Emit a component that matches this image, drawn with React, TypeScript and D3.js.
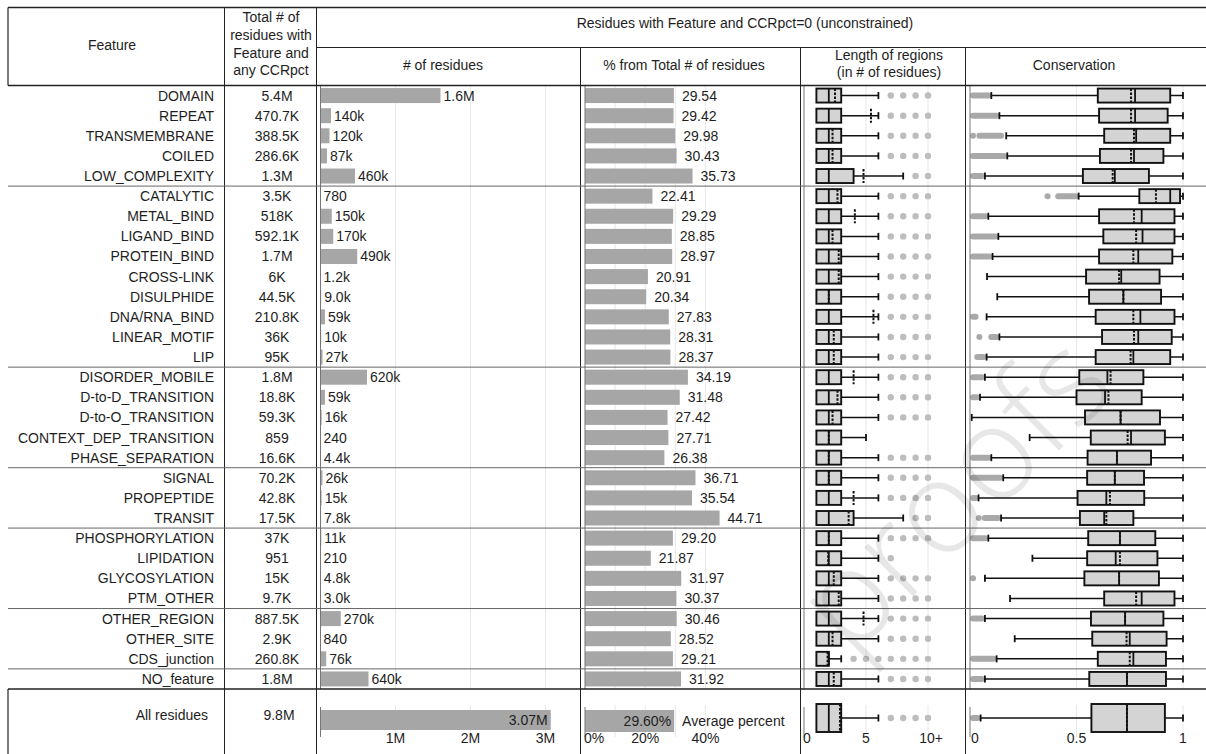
import React from "react";
import * as d3 from "d3";

// ---- table rows ----
const features = [
  "DOMAIN", "REPEAT", "TRANSMEMBRANE", "COILED", "LOW_COMPLEXITY",
  "CATALYTIC", "METAL_BIND", "LIGAND_BIND", "PROTEIN_BIND", "CROSS-LINK", "DISULPHIDE", "DNA/RNA_BIND", "LINEAR_MOTIF", "LIP",
  "DISORDER_MOBILE", "D-to-D_TRANSITION", "D-to-O_TRANSITION", "CONTEXT_DEP_TRANSITION", "PHASE_SEPARATION",
  "SIGNAL", "PROPEPTIDE", "TRANSIT",
  "PHOSPHORYLATION", "LIPIDATION", "GLYCOSYLATION", "PTM_OTHER",
  "OTHER_REGION", "OTHER_SITE", "CDS_junction",
  "NO_feature",
];
// last row index of each feature group
const groupEnds = [4, 13, 18, 21, 25, 28];

const totals = [
  "5.4M", "470.7K", "388.5K", "286.6K", "1.3M",
  "3.5K", "518K", "592.1K", "1.7M", "6K", "44.5K", "210.8K", "36K", "95K",
  "1.8M", "18.8K", "59.3K", "859", "16.6K",
  "70.2K", "42.8K", "17.5K",
  "37K", "951", "15K", "9.7K",
  "887.5K", "2.9K", "260.8K",
  "1.8M",
];

// residues with CCRpct = 0
const counts = [
  1.6e6, 140e3, 120e3, 87e3, 460e3,
  780, 150e3, 170e3, 490e3, 1.2e3, 9.0e3, 59e3, 10e3, 27e3,
  620e3, 59e3, 16e3, 240, 4.4e3,
  26e3, 15e3, 7.8e3,
  11e3, 210, 4.8e3, 3.0e3,
  270e3, 840, 76e3,
  640e3,
];

const percents = [
  29.54, 29.42, 29.98, 30.43, 35.73,
  22.41, 29.29, 28.85, 28.97, 20.91, 20.34, 27.83, 28.31, 28.37,
  34.19, 31.48, 27.42, 27.71, 26.38,
  36.71, 35.54, 44.71,
  29.20, 21.87, 31.97, 30.37,
  30.46, 28.52, 29.21,
  31.92,
];

// length of unconstrained regions (residues)
const lenQ1 = [1, 1, 1, 1, 1, 1, 1, 1, 1, 1, 1, 1, 1, 1, 1, 1, 1, 1, 1, 1, 1, 1, 1, 1, 1, 1, 1, 1, 1, 1];
const lenMed = [2, 2, 2, 2, 2, 2, 2, 2, 2, 2, 2, 2, 2, 2, 2, 2, 2, 2, 2, 2, 2, 2, 2, 2, 2, 2, 2, 2, 2, 2];
const lenQ3 = [3, 3, 3, 3, 4, 3, 3, 3, 3, 3, 3, 3, 3, 3, 3, 3, 3, 3, 3, 3, 3, 4, 3, 3, 3, 3, 3, 3, 2, 3];
const lenMean = [2.5, 5.4, 2.3, 2.3, 4.8, 2.7, 4.1, 2.3, 2.8, 2.8, 2, 5.6, 2.4, 2.4, 4.0, 2.7, 2.3, 2, 2, 2, 4.0, 3.6, 2, 1.95, 2.4, 2.8, 4.8, 2.3, 1.9, 2.4];
const lenHigh = [6, 6, 6, 6, 8, 6, 6, 6, 6, 6, 6, 6, 6, 6, 6, 6, 6, 5, 6, 6, 6, 8, 6, 6, 6, 6, 6, 6, 3, 6];
const lenOutliers = [
  [7, 8, 9, 10], [7, 8, 9, 10], [7, 8, 9, 10], [7, 8, 9, 10], [9, 10],
  [7, 8, 9, 10], [7, 8, 9, 10], [7, 8, 9, 10], [7, 8, 9, 10], [7, 8, 9, 10], [7, 8, 9, 10], [7, 8, 9, 10], [7, 8, 9, 10], [7, 8, 9, 10],
  [7, 8, 9, 10], [7, 8, 9, 10], [7, 8, 9, 10], [], [7, 8, 9, 10],
  [7, 8, 9, 10], [7, 8, 9, 10], [9, 10],
  [7, 8, 9, 10], [7], [7, 8, 9, 10], [7, 8, 9, 10],
  [7, 8, 9, 10], [7, 8, 9, 10], [4, 5, 6, 7, 8, 9, 10],
  [7, 8, 9, 10],
];

// conservation of unconstrained residues
const consLow = [0.1, 0.138, 0.17, 0.175, 0.07, 0.51, 0.086, 0.133, 0.106, 0.08, 0.128, 0.078, 0.138, 0.078, 0.07, 0.047, 0.008, 0.28, 0.1, 0.156, 0.04, 0.146, 0.086, 0.293, 0.07, 0.188, 0.07, 0.21, 0.125, 0.07];
const consQ1 = [0.6, 0.606, 0.63, 0.61, 0.53, 0.795, 0.606, 0.626, 0.606, 0.545, 0.559, 0.59, 0.62, 0.59, 0.513, 0.5, 0.54, 0.567, 0.552, 0.55, 0.505, 0.516, 0.555, 0.55, 0.537, 0.63, 0.568, 0.574, 0.6, 0.56];
const consMed = [0.775, 0.775, 0.78, 0.77, 0.68, 0.94, 0.806, 0.81, 0.79, 0.71, 0.72, 0.8, 0.79, 0.767, 0.645, 0.634, 0.707, 0.756, 0.69, 0.68, 0.64, 0.63, 0.704, 0.684, 0.7, 0.806, 0.728, 0.75, 0.767, 0.737];
const consMean = [0.756, 0.756, 0.77, 0.756, 0.67, 0.873, 0.77, 0.78, 0.767, 0.7, 0.72, 0.767, 0.77, 0.754, 0.66, 0.65, 0.707, 0.74, 0.69, 0.68, 0.657, 0.64, 0.704, 0.704, 0.7, 0.78, 0.728, 0.735, 0.75, 0.737];
const consQ3 = [0.94, 0.928, 0.94, 0.908, 0.84, 0.986, 0.96, 0.96, 0.95, 0.89, 0.897, 0.96, 0.947, 0.94, 0.814, 0.806, 0.892, 0.915, 0.85, 0.817, 0.818, 0.767, 0.87, 0.88, 0.887, 0.96, 0.908, 0.923, 0.92, 0.92];
const consHigh = [1, 1, 1, 1, 1, 1, 1, 1, 1, 1, 1, 1, 1, 1, 1, 1, 1, 1, 1, 1, 1, 1, 1, 1, 1, 1, 1, 1, 1, 1];
const consOutliers = [
  [[0, 0.1]], [[0, 0.138]], [[0, 0], [0.03, 0.16]], [[0, 0.175]], [[0, 0.07]],
  [[0.35, 0.35], [0.4, 0.51]], [[0, 0.086]], [[0, 0.133]], [[0, 0.106]], [], [], [[0, 0.04]], [[0.03, 0.03], [0.086, 0.138]], [[0.02, 0.078]],
  [[0, 0.07]], [[0, 0.047]], [], [], [[0, 0.1]],
  [[0, 0.156]], [[0, 0.04]], [[0.027, 0.027], [0.055, 0.146]],
  [[0, 0.086]], [], [[0, 0]], [],
  [[0, 0.07]], [], [[0, 0.125]],
  [[0, 0.07]],
];

// summary row: all residues
const allTotal = "9.8M";
const allCount = 3.07e6;
const allPercent = 29.6;
const allLen = { q1: 1, med: 2, q3: 3, mean: 2.9, high: 6, outliers: [7, 8, 9, 10] };
const allCons = { low: 0.05, q1: 0.57, med: 0.737, mean: 0.737, q3: 0.915, high: 1, outliers: [[0, 0.05]] };

// axis ticks
const countTicks = [1e6, 2e6, 3e6];
const countTickLabels = ["1M", "2M", "3M"];
const pctTicks = [0, 20, 40];
const pctTickLabels = ["0%", "20%", "40%"];
const pctGrid = [10, 20, 30, 40];
const lenTicks = [0, 5, 10];
const lenTickLabels = ["0", "5", "10+"];
const consTicks = [0, 0.5, 1];
const consTickLabels = ["0", "0.5", "1"];

const FONT = "'Liberation Sans', Arial, sans-serif";
const TEXT = "#1e1e1e";
const BAR = "#a6a6a6";
const BOX = "#d4d4d4";
const OUT = "#a9a9a9";
const DOT = "#bdbdbd";
const GRID = "#e8e8e8";

const W = 1206;
const H = 754;
const LEFT = 8;
const TOP = 7.5;
const SUB = 47.5;
const HEAD = 85.5;
const BODY_END = 689;
const ALL_Y = 720;

const xFeatDiv = 224.5;
const xTotDiv = 316.5;
const xPctDiv = 580.5;
const xLenDiv = 800.5;
const xConsDiv = 965.5;

const xCount = d3.scaleLinear().domain([0, 3e6]).range([320.5, 545.5]);
const xPct = d3.scaleLinear().domain([0, 40]).range([585, 705.4]);
const xLen = d3.scaleLinear().domain([0, 10]).range([804, 928]);
const xCons = d3.scaleLinear().domain([0, 1]).range([970, 1183]);

const yRow = d3.scaleBand<number>().domain(d3.range(features.length)).range([HEAD, BODY_END]);
const rowY = (i: number) => (yRow(i) as number) + yRow.bandwidth() / 2;

function fmtCount(v: number): string {
  if (v >= 1e6) return (v / 1e6).toFixed(1) + "M";
  if (v >= 1e4) return Math.round(v / 1e3) + "k";
  if (v >= 1e3) return (v / 1e3).toFixed(1) + "k";
  return String(v);
}

type LenStats = { q1: number; med: number; q3: number; mean: number; high: number; outliers: number[] };
type ConsStats = { low: number; q1: number; med: number; mean: number; q3: number; high: number; outliers: number[][] };

function LenBox({ s, y, h }: { s: LenStats; y: number; h: number }) {
  const x1 = xLen(s.q1), x3 = xLen(s.q3);
  return (
    <g>
      <line x1={x3} x2={xLen(s.high)} y1={y} y2={y} stroke="#111" strokeWidth={1.5} />
      <line x1={xLen(s.high)} x2={xLen(s.high)} y1={y - 3.5} y2={y + 3.5} stroke="#111" strokeWidth={1.8} />
      {s.outliers.map((o, k) => (
        <circle key={k} cx={xLen(o)} cy={y} r={3.2} fill={DOT} />
      ))}
      <rect x={x1} y={y - h / 2} width={x3 - x1} height={h} fill={BOX} stroke="#111" strokeWidth={1.9} />
      <line x1={xLen(s.med)} x2={xLen(s.med)} y1={y - h / 2} y2={y + h / 2} stroke="#111" strokeWidth={1.8} />
      <line x1={xLen(s.mean)} x2={xLen(s.mean)} y1={y - h / 2} y2={y + h / 2} stroke="#111" strokeWidth={2} strokeDasharray="2.5,1.5" />
    </g>
  );
}

function ConsBox({ s, y, h }: { s: ConsStats; y: number; h: number }) {
  return (
    <g>
      {s.outliers.map(([a, b], k) => (
        <line key={k} x1={xCons(a) + 3} x2={Math.max(xCons(b) - 3, xCons(a) + 3)} y1={y} y2={y}
          stroke={OUT} strokeWidth={6} strokeLinecap="round" />
      ))}
      <line x1={xCons(s.low)} x2={xCons(s.high)} y1={y} y2={y} stroke="#111" strokeWidth={1.5} />
      <line x1={xCons(s.low)} x2={xCons(s.low)} y1={y - 3.5} y2={y + 3.5} stroke="#111" strokeWidth={1.8} />
      <line x1={xCons(s.high)} x2={xCons(s.high)} y1={y - 3.5} y2={y + 3.5} stroke="#111" strokeWidth={1.8} />
      <rect x={xCons(s.q1)} y={y - h / 2} width={xCons(s.q3) - xCons(s.q1)} height={h} fill={BOX} stroke="#111" strokeWidth={1.9} />
      <line x1={xCons(s.med)} x2={xCons(s.med)} y1={y - h / 2} y2={y + h / 2} stroke="#111" strokeWidth={1.8} />
      <line x1={xCons(s.mean)} x2={xCons(s.mean)} y1={y - h / 2} y2={y + h / 2} stroke="#111" strokeWidth={2} strokeDasharray="2.5,1.5" />
    </g>
  );
}

export default function App() {
  const barH = 15;
  const boxH = 14;
  const sepYs = groupEnds.map((e) => (yRow(e) as number) + yRow.bandwidth());

  const gridCount = countTicks.map((t) => xCount(t));
  const gridPct = pctGrid.map((t) => xPct(t));
  const gridLen = [5, 10].map((t) => xLen(t));
  const gridCons = [0.5, 1].map((t) => xCons(t));
  const allGrid = [...gridCount, ...gridPct, ...gridLen, ...gridCons];

  return (
    <svg width={W} height={H} style={{ position: "absolute", left: 0, top: 0, background: "#fff" }}
      fontFamily={FONT} fontSize={14} fill={TEXT}>
      {/* vertical grid lines */}
      {allGrid.map((gx, k) => (
        <g key={k}>
          <line x1={gx} x2={gx} y1={HEAD} y2={BODY_END} stroke={GRID} strokeWidth={1} />
          <line x1={gx} x2={gx} y1={BODY_END + 16} y2={BODY_END + 48} stroke={GRID} strokeWidth={1} />
        </g>
      ))}

      {/* header */}
      <text x={112} y={50} textAnchor="middle">Feature</text>
      {["Total # of", "residues with", "Feature and", "any CCRpct"].map((t, k) => (
        <text key={k} x={271} y={22 + k * 17.8} textAnchor="middle">{t}</text>
      ))}
      <text x={745} y={28} textAnchor="middle">Residues with Feature and CCRpct=0 (unconstrained)</text>
      <text x={443} y={70} textAnchor="middle"># of residues</text>
      <text x={684} y={70} textAnchor="middle">% from Total # of residues</text>
      <text x={889} y={60} textAnchor="middle">Length of regions</text>
      <text x={889} y={76.5} textAnchor="middle">(in # of residues)</text>
      <text x={1074} y={70} textAnchor="middle">Conservation</text>

      {/* rows */}
      {features.map((f, i) => {
        const y = rowY(i);
        const xe = xCount(counts[i]);
        const pe = xPct(percents[i]);
        return (
          <g key={f}>
            <text x={214} y={y + 5} textAnchor="end">{f}</text>
            <text x={277} y={y + 5} textAnchor="middle">{totals[i]}</text>
            <rect x={xCount(0)} y={y - barH / 2} width={xe - xCount(0)} height={barH} fill={BAR} />
            <text x={xe + 3} y={y + 5}>{fmtCount(counts[i])}</text>
            <rect x={xPct(0)} y={y - barH / 2} width={pe - xPct(0)} height={barH} fill={BAR} />
            <text x={pe + 8} y={y + 5}>{percents[i].toFixed(2)}</text>
            <LenBox y={y} h={boxH} s={{ q1: lenQ1[i], med: lenMed[i], q3: lenQ3[i], mean: lenMean[i], high: lenHigh[i], outliers: lenOutliers[i] }} />
            <ConsBox y={y} h={boxH} s={{ low: consLow[i], q1: consQ1[i], med: consMed[i], mean: consMean[i], q3: consQ3[i], high: consHigh[i], outliers: consOutliers[i] }} />
          </g>
        );
      })}

      {/* summary row */}
      <text x={208} y={ALL_Y} textAnchor="end">All residues</text>
      <text x={279} y={ALL_Y} textAnchor="middle">{allTotal}</text>
      <rect x={xCount(0)} y={ALL_Y - 10} width={xCount(allCount) - xCount(0)} height={20} fill={BAR} />
      <text x={xCount(allCount) - 3} y={ALL_Y + 5} textAnchor="end">{(allCount / 1e6).toFixed(2) + "M"}</text>
      <rect x={xPct(0)} y={ALL_Y - 10} width={xPct(allPercent) - xPct(0)} height={22} fill={BAR} />
      <text x={xPct(allPercent) - 3} y={ALL_Y + 5.5} textAnchor="end">{allPercent.toFixed(2) + "%"}</text>
      <text x={xPct(allPercent) + 8} y={ALL_Y + 5.5}>Average percent</text>
      <LenBox y={ALL_Y - 2} h={28} s={allLen} />
      <ConsBox y={ALL_Y - 2} h={28} s={allCons} />

      {/* summary axes */}
      {[xCount(0), xPct(0), xLen(0), xCons(0)].map((ax, k) => (
        <line key={k} x1={ax} x2={ax} y1={707} y2={737} stroke="#777" strokeWidth={1} />
      ))}
      {countTicks.map((t, k) => (
        <text key={k} x={xCount(t)} y={743} textAnchor="middle">{countTickLabels[k]}</text>
      ))}
      {pctTicks.map((t, k) => (
        <text key={k} x={t === 0 ? xPct(t) - 1 : xPct(t)} y={743} textAnchor={t === 0 ? "start" : "middle"}>{pctTickLabels[k]}</text>
      ))}
      {lenTicks.map((t, k) => (
        <text key={k} x={t === 0 ? xLen(t) - 1 : xLen(t) + (t === 10 ? 3 : 0)} y={743} textAnchor={t === 0 ? "start" : "middle"}>{lenTickLabels[k]}</text>
      ))}
      {consTicks.map((t, k) => (
        <text key={k} x={t === 0 ? xCons(t) + 1 : xCons(t)} y={743} textAnchor={t === 0 ? "start" : "middle"}>{consTickLabels[k]}</text>
      ))}

      {/* body axis lines */}
      {[xCount(0), xPct(0), xLen(0), xCons(0)].map((ax, k) => (
        <line key={k} x1={ax} x2={ax} y1={HEAD} y2={BODY_END} stroke="#777" strokeWidth={1} />
      ))}

      {/* table frame */}
      <g stroke="#222" fill="none">
        <line x1={LEFT} x2={W} y1={TOP} y2={TOP} strokeWidth={1.6} />
        <line x1={xTotDiv} x2={W} y1={SUB} y2={SUB} strokeWidth={1.2} />
        <line x1={LEFT} x2={W} y1={HEAD} y2={HEAD} strokeWidth={1.3} />
        <line x1={LEFT} x2={LEFT} y1={TOP} y2={HEAD} strokeWidth={1.2} />
        <line x1={xFeatDiv} x2={xFeatDiv} y1={TOP} y2={H} strokeWidth={1} />
        <line x1={xTotDiv} x2={xTotDiv} y1={TOP} y2={H} strokeWidth={1} />
        <line x1={xPctDiv} x2={xPctDiv} y1={SUB} y2={H} strokeWidth={1} />
        <line x1={xLenDiv} x2={xLenDiv} y1={SUB} y2={H} strokeWidth={1} />
        <line x1={xConsDiv} x2={xConsDiv} y1={SUB} y2={H} strokeWidth={1} />
        {sepYs.map((sy, k) => (
          <line key={k} x1={LEFT} x2={W} y1={sy} y2={sy} stroke="#666" strokeWidth={1} />
        ))}
        <line x1={LEFT} x2={W} y1={BODY_END} y2={BODY_END} strokeWidth={1.3} />
        <line x1={LEFT} x2={LEFT} y1={BODY_END} y2={H} strokeWidth={1.2} />
      </g>

      {/* page watermark */}
      <g transform="translate(960,500) rotate(-45)">
        <text x={0} y={35} textAnchor="middle"
          fontFamily="'Open Sans', sans-serif" fontWeight={300} fontSize={130} fill="#000" opacity={0.09}>
          proofs
        </text>
      </g>
    </svg>
  );
}
